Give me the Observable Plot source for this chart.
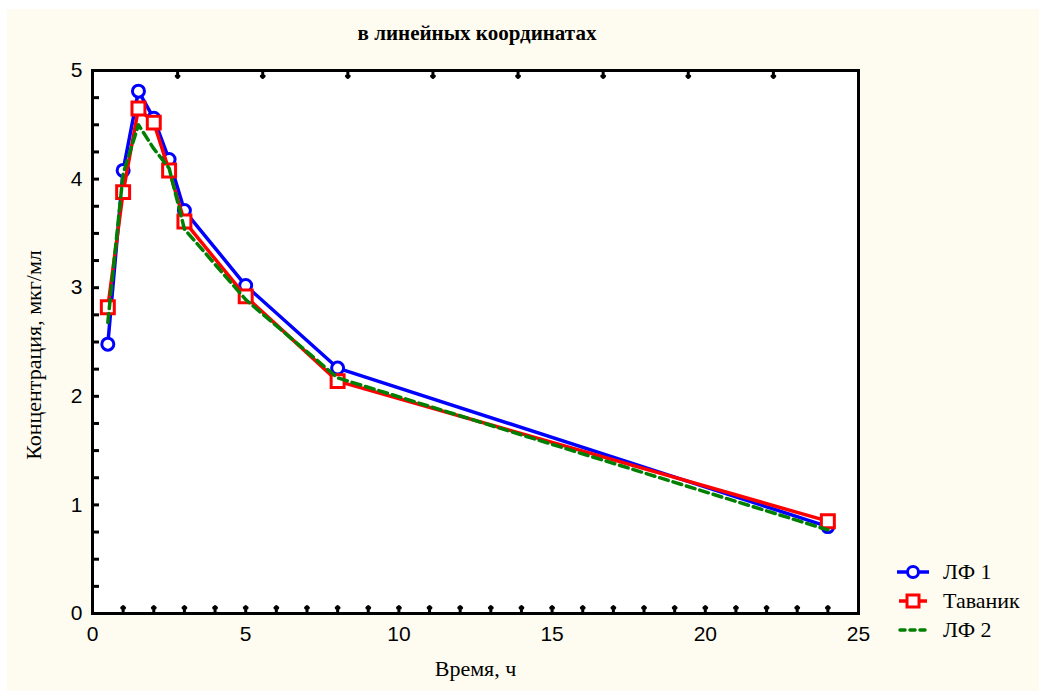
<!DOCTYPE html>
<html>
<head>
<meta charset="utf-8">
<script src="https://cdn.jsdelivr.net/npm/d3@7"></script>
<script src="https://cdn.jsdelivr.net/npm/@observablehq/plot@0.6"></script>
<style>
  html, body { margin: 0; padding: 0; background: #ffffff; }
  #panel { position: absolute; left: 7px; top: 9px; width: 1032px; height: 682px; background: #fefcf0; }
  #title { position: absolute; left: 0; width: 940px; top: 12px; text-align: center;
           font-family: "Liberation Serif", serif; font-weight: bold; font-size: 21px; color: #000; }
  #chart { position: absolute; left: 0; top: 0; }
  #legend { position: absolute; left: 888px; top: 548px; font-family: "Liberation Serif", serif; font-size: 22px; color: #000; }
  .row { height: 29px; display: flex; align-items: center; }
  .row svg { margin-right: 12px; }
</style>
</head>
<body>
<div id="panel">
  <div id="chart"></div>
  <div id="title">в линейных координатах</div>
  <div id="legend"></div>
</div>
<script>
// Data
const time    = [0.5, 1, 1.5, 2, 2.5, 3, 5, 8, 24];
const lf1     = [2.48, 4.08, 4.81, 4.56, 4.18, 3.71, 3.02, 2.26, 0.80];
const tavanik = [2.82, 3.88, 4.65, 4.52, 4.08, 3.61, 2.92, 2.14, 0.85];
const lf2     = [2.68, 4.05, 4.50, 4.28, 4.10, 3.54, 2.89, 2.17, 0.77];

const seriesNames = ["ЛФ 1", "Таваник", "ЛФ 2"];
const xMajorTicks = [0, 5, 10, 15, 20, 25];
const yMajorTicks = [0, 1, 2, 3, 4, 5];
const xMinorTicks = [1, 2, 3, 4, 5, 6, 7, 8, 9, 10, 11, 12, 13, 14, 15, 16, 17, 18, 19, 20, 21, 22, 23, 24];
const yMinorTicks = d3.range(0.25, 5, 0.25);
const topTicks = [1, 2, 3, 4, 5, 6, 7, 8].map(k => k * 25 / 9);

const toRows = (vals) => time.map((t, i) => ({t, v: vals[i]}));
const d1 = toRows(lf1), d2 = toRows(tavanik), d3r = toRows(lf2);

const blue = "#0000ff", red = "#ff0000", green = "#008000";

const W = 1032, H = 682, ML = 85, MR = 181, MT = 61, MB = 78;
const fw = W - ML - MR, fh = H - MT - MB, tl = 7;
const yMax = 5;

const bottomTickRows = xMinorTicks.map(t => ({t, y: 0}));
const topTickRows = topTicks.map(t => ({t, y: yMax}));

const chart = Plot.plot({
  width: W,
  height: H,
  marginLeft: ML,
  marginRight: MR,
  marginTop: MT,
  marginBottom: MB,
  style: { background: "transparent", fontFamily: "Liberation Sans, Arial, sans-serif" },
  x: { domain: [0, 25] },
  y: { domain: [0, yMax] },
  marks: [
    Plot.frame({ fill: "white", stroke: null }),
    // labels
    Plot.axisX({ ticks: xMajorTicks, tickSize: 0, tickPadding: 13, fontSize: 21, label: null, tickFormat: d3.format("d") }),
    Plot.axisY({ ticks: yMajorTicks, tickSize: 0, tickPadding: 10, fontSize: 21, label: null, tickFormat: d3.format("d") }),
    Plot.text(["Время, ч"], { frameAnchor: "bottom", dy: 62, fontSize: 22, fontFamily: "Liberation Serif, serif", fill: "black" }),
    Plot.text(["Концентрация, мкг/мл"], { frameAnchor: "left", dx: -59, dy: 13, rotate: -90, textAnchor: "middle", fontSize: 22, fontFamily: "Liberation Serif, serif", fill: "black" }),
    // series
    Plot.line(d1, { x: "t", y: "v", stroke: blue, strokeWidth: 3.5 }),
    Plot.dot(d1, { x: "t", y: "v", r: 6, stroke: blue, strokeWidth: 3, fill: "white" }),
    Plot.line(d2, { x: "t", y: "v", stroke: red, strokeWidth: 3.5 }),
    Plot.dot(d2, { x: "t", y: "v", symbol: "square", r: 7.3, stroke: red, strokeWidth: 3, fill: "white" }),
    Plot.line(d3r, { x: "t", y: "v", stroke: green, strokeWidth: 3.5, strokeDasharray: "9,5" }),
    Plot.frame({ stroke: "black", strokeWidth: 3 }),
    // inward ticks (vector marks anchored on the frame edges)
    Plot.vector(bottomTickRows, { x: "t", y: "y", length: tl, rotate: 0, anchor: "start", stroke: "black", strokeWidth: 3 }),
    Plot.vector(topTickRows, { x: "t", y: "y", length: tl, rotate: 180, anchor: "start", stroke: "black", strokeWidth: 3 }),
    Plot.tickY(yMinorTicks, { y: d => d, insetRight: fw - tl, stroke: "black", strokeWidth: 3 })
  ]
});
document.getElementById("chart").appendChild(chart);

// Legend
const legend = document.getElementById("legend");
const swatches = [
  `<svg width="36" height="18"><line x1="2" y1="9" x2="34" y2="9" stroke="${blue}" stroke-width="3.5"/><circle cx="18" cy="9" r="5.5" fill="white" stroke="${blue}" stroke-width="3"/></svg>`,
  `<svg width="36" height="18"><line x1="4" y1="9" x2="32" y2="9" stroke="${red}" stroke-width="3.5"/><rect x="12" y="3" width="12" height="12" fill="white" stroke="${red}" stroke-width="3"/></svg>`,
  `<svg width="36" height="18"><line x1="5" y1="9" x2="32" y2="9" stroke="${green}" stroke-width="3.5" stroke-dasharray="5,5" stroke-linecap="round"/></svg>`
];
seriesNames.forEach((name, i) => {
  const row = document.createElement("div");
  row.className = "row";
  row.innerHTML = swatches[i] + `<span>${name}</span>`;
  legend.appendChild(row);
});
</script>
</body>
</html>
